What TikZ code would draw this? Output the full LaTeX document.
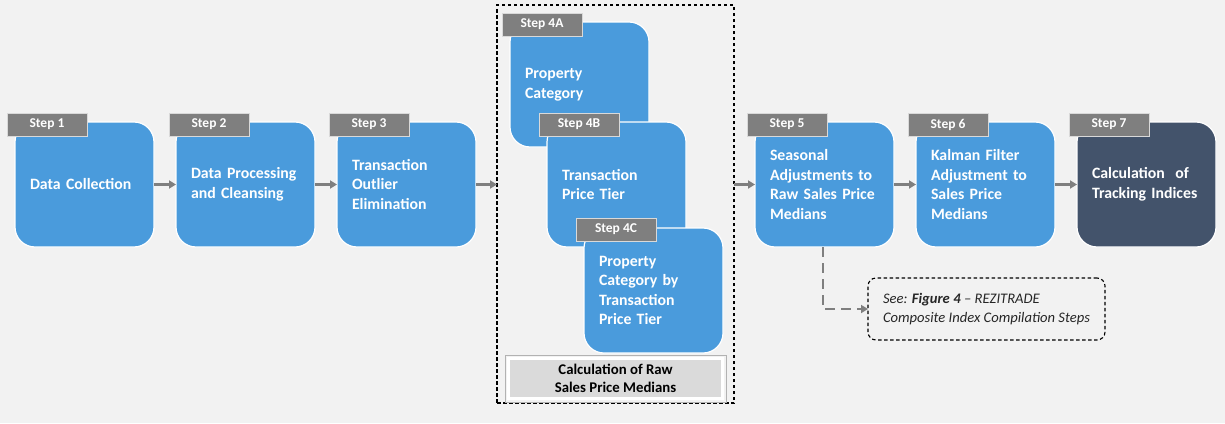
\documentclass[tikz,border=0pt]{standalone}
\usepackage{fontspec}
\setmainfont{Carlito}
\usetikzlibrary{arrows.meta}
\definecolor{bgc}{HTML}{F2F2F2}
\definecolor{boxblue}{HTML}{4A9BDC}
\definecolor{boxdark}{HTML}{43536B}
\definecolor{labgray}{HTML}{7F7F7F}
\definecolor{arrgray}{HTML}{7F7F7F}
\definecolor{calcgray}{HTML}{DADADA}
\definecolor{notetext}{HTML}{262626}
\tikzset{
  stepbox/.style={rounded corners=20pt, fill=boxblue, draw=white, line width=1.2pt,
    minimum width=139pt, minimum height=125pt, text width=109pt, inner xsep=15pt,
    inner ysep=0pt, outer sep=0pt, align=left, text=white,
    font=\fontsize{15.8}{19.5}\selectfont\bfseries, anchor=north west},
  steplabel/.style={fill=labgray, draw=white!85!black, line width=1pt,
    minimum width=80pt, minimum height=23pt, inner sep=0pt, outer sep=0pt, text=white,
    font=\fontsize{13.5}{15}\selectfont\bfseries, anchor=north west},
  flowarrow/.style={draw=arrgray, line width=2.5pt, -{Triangle[length=7pt,width=8pt]}},
  linkarrow/.style={draw=arrgray, line width=2.5pt, dash pattern=on 10pt off 6pt,
    -{Triangle[length=7pt,width=8pt]}},
  groupbox/.style={draw=black, line width=1.1pt, dash pattern=on 3.5pt off 2.5pt,
    minimum width=237pt, minimum height=398pt, inner sep=0pt, outer sep=0pt, anchor=north west},
  notebox/.style={draw=black, line width=1.1pt, dash pattern=on 3.5pt off 2.5pt,
    rounded corners=8pt, minimum width=237pt, minimum height=62pt,
    inner sep=0pt, outer sep=0pt, align=left, text=notetext,
    font=\fontsize{14.6}{19}\selectfont\itshape, anchor=north west},
  calcbox/.style={fill=calcgray, draw=white, line width=3pt, minimum width=214pt,
    minimum height=40pt, inner sep=0pt, align=center, text=black,
    font=\fontsize{14.8}{18.5}\selectfont\bfseries}
}
\begin{document}
\begin{tikzpicture}[x=1pt,y=1pt]
\fill[bgc] (0,0) rectangle (1225,-423);
\useasboundingbox (0,0) rectangle (1225,-423);

% group box
\node[groupbox] (g4) at (497,-5) {};

% steps 1-3
\node[stepbox] (s1) at (15,-122) {Data Collection};
\node[steplabel] (l1) at (7,-113) {Step 1};
\node[stepbox] (s2) at (176,-122) {Data Processing\\and Cleansing};
\node[steplabel] (l2) at (169,-113) {Step 2};
\node[stepbox] (s3) at (337,-122) {Transaction\\Outlier\\Elimination};
\node[steplabel] (l3) at (329,-113) {Step 3};

% step 4
\node[stepbox] (s4a) at (510,-22) {Property\\Category};
\node[steplabel] (l4a) at (502,-13) {Step 4A};
\node[stepbox] (s4b) at (547,-122) {Transaction\\Price Tier};
\node[steplabel] (l4b) at (539,-113) {Step 4B};
\node[stepbox] (s4c) at (584,-228) {Property\\Category by\\Transaction\\Price Tier};
\node[steplabel] (l4c) at (576,-218) {Step 4C};
\node[calcbox] (calc) at (615.5,-378.5) {Calculation of Raw\\Sales Price Medians};
\draw[black!30, line width=0.6pt] ([shift={(-1.8,1.8)}]calc.north west) rectangle ([shift={(1.8,-1.8)}]calc.south east);

% steps 5-7
\node[stepbox] (s5) at (755,-122) {Seasonal\\Adjustments to\\Raw Sales Price\\Medians};
\node[steplabel] (l5) at (747,-113) {Step 5};
\node[stepbox] (s6) at (916,-122) {Kalman Filter\\Adjustment to\\Sales Price\\Medians};
\node[steplabel] (l6) at (908,-113) {Step 6};
\node[stepbox, fill=boxdark] (s7) at (1077,-122) {Calculation\ \ of\\Tracking Indices};
\node[steplabel] (l7) at (1069,-113) {Step 7};

% note
\node[notebox] (note) at (868,-278) {See: \textbf{Figure\hspace{3.5pt}4} -- REZITRADE\\Composite Index Compilation Steps};

% connectors
\draw[flowarrow] (s1.east) -- (s2.west);
\draw[flowarrow] (s2.east) -- (s3.west);
\draw[flowarrow] (s3.east) -- (s3.east -| g4.west);
\draw[flowarrow] (s5.west -| g4.east) -- (s5.west);
\draw[flowarrow] (s5.east) -- (s6.west);
\draw[flowarrow] (s6.east) -- (s7.west);
\draw[linkarrow] ([xshift=-1.5pt]s5.south) |- (note.west);
\end{tikzpicture}
\end{document}
